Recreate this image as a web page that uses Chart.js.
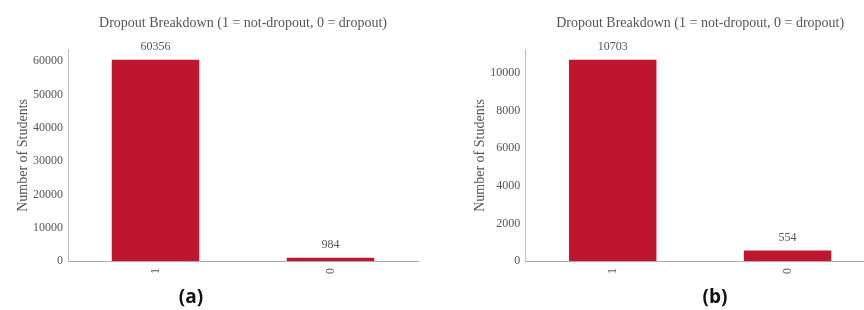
<!DOCTYPE html>
<html>
<head>
<meta charset="utf-8">
<script src="https://cdn.jsdelivr.net/npm/chart.js@4.4.1/dist/chart.umd.min.js"></script>
<style>
    html, body { margin: 0; padding: 0; background: #fff; overflow: hidden; }
    body { width: 864px; height: 310px; position: relative; }
    .panel { position: absolute; top: 0; height: 310px; }
    .caption {
        position: absolute; top: 283px; font-family: "Open Sans", sans-serif;
        font-weight: bold; font-size: 19px; color: #111; transform: translateX(-50%);
    }
</style>
</head>
<body>
<div class="panel" style="left:0;width:432px"><canvas id="chartA"></canvas></div>
<div class="panel" style="left:432px;width:470px"><canvas id="chartB"></canvas></div>
<div class="caption" style="left:191px">(a)</div>
<div class="caption" style="left:715px">(b)</div>
<script>
// Data
const categories = ['1', '0'];
const studentsA = [60356, 984];
const studentsB = [10703, 554];
const yTicksA = [0, 10000, 20000, 30000, 40000, 50000, 60000];
const yTicksB = [0, 2000, 4000, 6000, 8000, 10000];
const titleText = 'Dropout Breakdown (1 = not-dropout, 0 = dropout)';

const SERIF = '"Liberation Serif", "DejaVu Serif", serif';
const TEXT_GREY = '#555';
const BAR_RED = '#C0152F';

// value labels above each bar
const valueLabels = {
    id: 'valueLabels',
    afterDatasetsDraw(chart) {
        const ctx = chart.ctx;
        const meta = chart.getDatasetMeta(0);
        ctx.save();
        ctx.font = '12px ' + SERIF;
        ctx.fillStyle = TEXT_GREY;
        ctx.textAlign = 'center';
        ctx.textBaseline = 'middle';
        meta.data.forEach((bar, i) => {
            ctx.fillText(String(chart.data.datasets[0].data[i]), bar.x, bar.y - 13);
        });
        ctx.restore();
    }
};

function makeChart(id, values, yTicks, padLeft, yWidth, padRight) {
    return new Chart(document.getElementById(id), {
        type: 'bar',
        data: {
            labels: categories,
            datasets: [{
                data: values,
                backgroundColor: BAR_RED,
                borderWidth: 0,
                barPercentage: 0.5,
                categoryPercentage: 1.0
            }]
        },
        options: {
            responsive: true,
            maintainAspectRatio: false,
            animation: false,
            layout: { padding: { left: padLeft, right: padRight, top: 0, bottom: 29 } },
            plugins: {
                legend: { display: false },
                tooltip: { enabled: false },
                title: {
                    display: true,
                    text: titleText,
                    fullSize: false,
                    color: TEXT_GREY,
                    font: { family: SERIF, size: 14, weight: 'normal' },
                    padding: { top: 15, bottom: 18 }
                }
            },
            scales: {
                x: {
                    grid: { display: false, drawTicks: false },
                    border: { display: true, color: '#aaa', width: 1 },
                    ticks: {
                        color: TEXT_GREY, font: { family: SERIF, size: 12 },
                        minRotation: 90, maxRotation: 90, padding: 7
                    },
                    afterFit(scale) { scale.height = 20; }
                },
                y: {
                    min: 0,
                    max: Math.max(...values) * 1.05,
                    grid: { display: false, drawTicks: false },
                    border: { display: true, color: '#bbb', width: 1 },
                    ticks: {
                        color: TEXT_GREY, font: { family: SERIF, size: 12 }, padding: 5,
                        callback: v => String(v)
                    },
                    title: {
                        display: true, text: 'Number of Students',
                        color: TEXT_GREY, font: { family: SERIF, size: 14 },
                        padding: { top: 4, bottom: 4 }
                    },
                    afterBuildTicks(scale) {
                        scale.ticks = yTicks.map(v => ({ value: v }));
                    },
                    afterFit(scale) { scale.width = yWidth; }
                }
            }
        },
        plugins: [valueLabels]
    });
}

makeChart('chartA', studentsA, yTicksA, 11, 57, 14);
makeChart('chartB', studentsB, yTicksB, 36, 57.3, 27);
</script>
</body>
</html>
